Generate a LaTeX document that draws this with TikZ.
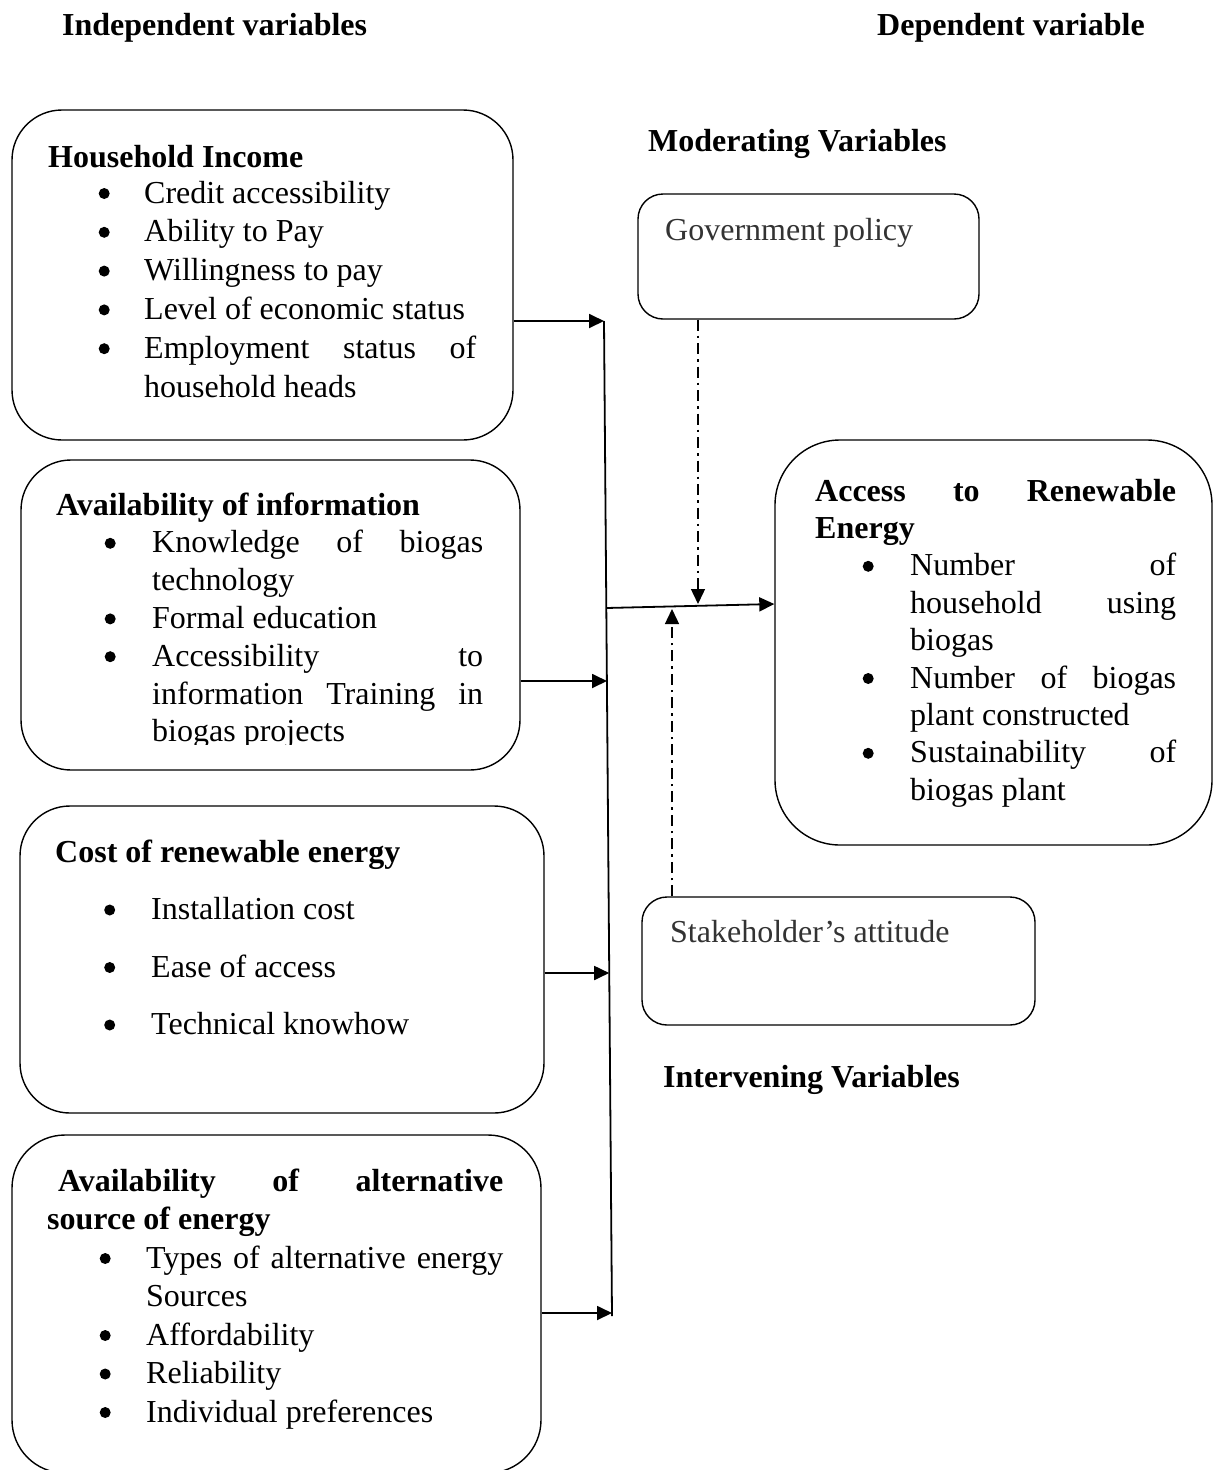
\documentclass[tikz,border=0pt]{standalone}
\usepackage{fontspec}
\setmainfont{Liberation Serif}
\usetikzlibrary{arrows.meta}
\newcommand\bul{\makebox[0pt][c]{\tikz[baseline=0pt]\fill (0pt,9.5pt) circle[radius=5.5pt];}}
\newcommand\Bl[3]{\hspace*{#1}\bul\hspace*{#2}#3\par}
\newcommand\Cl[2]{\hspace*{#1}#2\par}
\newcommand\J[2]{\makebox[#1][s]{#2}}
\begin{document}
\begin{tikzpicture}[x=1pt,y=-1pt,
  font=\fontsize{32}{38.8}\selectfont,
  rbox/.style={draw, line width=1.4pt, inner sep=0pt, rounded corners=#1},
  txt/.style={anchor=base west, inner sep=0pt},
  arr/.style={line width=1.8pt, -{Triangle[length=15pt,width=14pt]}},
  dd/.style={line width=1.4pt, dash pattern=on 11pt off 5pt on 2.5pt off 5pt, -{Triangle[length=15pt,width=14pt]}}]
\useasboundingbox (0,0) rectangle (1215,1470);
\fill[white] (0,0) rectangle (1215,1470);

% titles
\node[txt, font=\fontsize{32}{38.8}\selectfont\bfseries] (indep) at (62,35) {Independent variables};
\node[txt, font=\fontsize{32}{38.8}\selectfont\bfseries] (dep) at (877,35) {Dependent variable};
\node[txt, font=\fontsize{32}{38.8}\selectfont\bfseries] (moder) at (648,151) {Moderating Variables};
\node[txt, font=\fontsize{32}{38.8}\selectfont\bfseries] (interv) at (663,1087) {Intervening Variables};

% boxes
\node[rbox=50pt, minimum width=501pt, minimum height=330pt] (b1) at (262.5,275) {};
\node[rbox=50pt, minimum width=499pt, minimum height=310pt] (b2) at (270.5,615) {};
\node[rbox=50pt, minimum width=524pt, minimum height=307pt] (b3) at (282,959.5) {};
\node[rbox=53pt, minimum width=529pt, minimum height=338pt] (b4) at (276.5,1304) {};
\node[rbox=25pt, minimum width=341pt, minimum height=125pt] (gov) at (808.5,256.5) {};
\node[rbox=25pt, minimum width=393pt, minimum height=128pt] (stk) at (838.5,961) {};
\node[rbox=65pt, minimum width=437pt, minimum height=405pt] (acc) at (993.5,642.5) {};

% box texts
\node[txt] (t1) at (48,167) {\parbox[t]{480pt}{\fontsize{32}{38.8}\selectfont
  \textbf{Household Income}\par\vspace{-2.8pt}
  \Bl{56pt}{40pt}{Credit accessibility}
  \Bl{56pt}{40pt}{Ability to Pay}
  \Bl{56pt}{40pt}{Willingness to pay}
  \Bl{56pt}{40pt}{Level of economic status}
  \Bl{56pt}{40pt}{\J{332pt}{Employment status of}}
  \Cl{96pt}{household heads}}};

\begin{scope}
\clip (0,0) rectangle (1215,744);
\node[txt] (t2) at (56,515) {\parbox[t]{480pt}{\fontsize{32}{37.8}\selectfont
  \textbf{Availability of information}\par
  \Bl{54pt}{42pt}{\J{331pt}{Knowledge of biogas}}
  \Cl{96pt}{technology}
  \Bl{54pt}{42pt}{Formal education}
  \Bl{54pt}{42pt}{\J{331pt}{Accessibility to}}
  \Cl{96pt}{\J{331pt}{information Training in}}
  \Cl{96pt}{biogas projects}}};
\end{scope}

\node[txt] (t3) at (55,862) {\parbox[t]{480pt}{\fontsize{32}{57.5}\selectfont
  \textbf{Cost of renewable energy}\par
  \Bl{54.5pt}{41.5pt}{Installation cost}
  \Bl{54.5pt}{41.5pt}{Ease of access}
  \Bl{54.5pt}{41.5pt}{Technical knowhow}}};

\node[txt] (t4) at (47,1191) {\parbox[t]{480pt}{\fontsize{32}{38.5}\selectfont
  \hspace*{11pt}\J{445pt}{\bfseries Availability of alternative}\par
  \textbf{source of energy}\par
  \Bl{58pt}{41pt}{\J{357pt}{Types of alternative energy}}
  \Cl{99pt}{Sources}
  \Bl{58pt}{41pt}{Affordability}
  \Bl{58pt}{41pt}{Reliability}
  \Bl{58pt}{41pt}{Individual preferences}}};

\node[txt] (t5) at (815,501) {\parbox[t]{390pt}{\fontsize{32}{37.4}\selectfont
  \J{361pt}{\bfseries Access to Renewable}\par
  \textbf{Energy}\par
  \Bl{53pt}{42pt}{\J{266pt}{Number of}}
  \Cl{95pt}{\J{266pt}{household using}}
  \Cl{95pt}{biogas}
  \Bl{53pt}{42pt}{\J{266pt}{Number of biogas}}
  \Cl{95pt}{plant constructed}
  \Bl{53pt}{42pt}{\J{266pt}{Sustainability of}}
  \Cl{95pt}{biogas plant}}};

\node[txt, text=black!80] (t6) at (665,240) {Government policy};
\node[txt, text=black!80] (t7) at (670,942) {Stakeholder’s attitude};

% connectors
\coordinate (v1) at (604,321);
\coordinate (v2) at (612,1316);
\draw[line width=1.8pt] (v1) -- (v2);
\coordinate (e1) at (604,321);
\coordinate (e2) at (607,681);
\coordinate (e3) at (609.2,973);
\coordinate (e4) at (612,1313);
\draw[arr] (b1.east |- e1) -- (e1);
\draw[arr] (b2.east |- e2) -- (e2);
\draw[arr] (b3.east |- e3) -- (e3);
\draw[arr] (b4.east |- e4) -- (e4);

\coordinate (m0) at (606.3,608);
\coordinate (m1) at (700,604);
\draw[arr] (m0) -- (acc.west |- m1);

\coordinate (d1) at (698,604);
\coordinate (d2) at (672,609);
\draw[dd] (gov.south -| d1) -- (d1);
\draw[dd] (stk.north -| d2) -- (d2);
\end{tikzpicture}
\end{document}
